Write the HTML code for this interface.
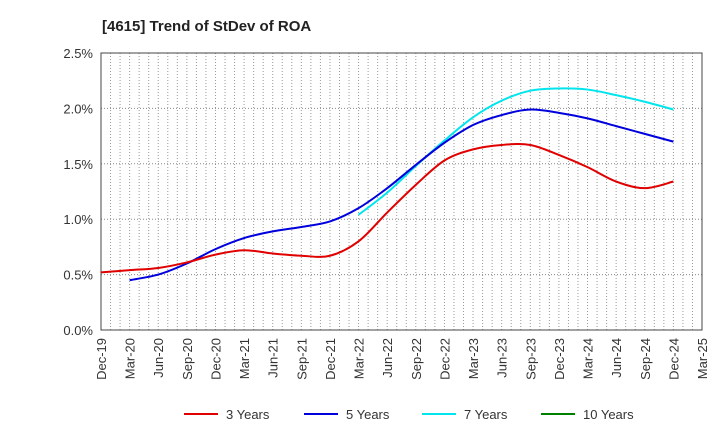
<!DOCTYPE html>
<html><head><meta charset="utf-8"><style>
body{margin:0;background:#fff;font-family:"Liberation Sans",sans-serif}
</style></head><body>
<svg id="chart" width="720" height="440" xmlns="http://www.w3.org/2000/svg" font-family="Liberation Sans, sans-serif">
<text x="102" y="31" font-size="15" font-weight="bold" fill="#222">[4615]  Trend of StDev of ROA</text>
<g id="grid"></g><g id="axes"></g><g id="series"></g><g id="legend"></g>
</svg>
<script>
const xLabels=["Dec-19","Mar-20","Jun-20","Sep-20","Dec-20","Mar-21","Jun-21","Sep-21","Dec-21","Mar-22","Jun-22","Sep-22","Dec-22","Mar-23","Jun-23","Sep-23","Dec-23","Mar-24","Jun-24","Sep-24","Dec-24","Mar-25"];
const yTicks=[0,0.5,1.0,1.5,2.0,2.5];
const s3=[0.52,0.54,0.56,0.61,0.68,0.72,0.69,0.67,0.67,0.80,1.06,1.31,1.53,1.63,1.67,1.67,1.58,1.47,1.34,1.28,1.34];
const s5=[null,0.45,0.50,0.60,0.73,0.83,0.89,0.93,0.98,1.10,1.28,1.49,1.69,1.85,1.94,1.99,1.96,1.91,1.84,1.77,1.70];
const s7=[null,null,null,null,null,null,null,null,null,1.04,1.24,1.48,1.71,1.92,2.07,2.16,2.18,2.17,2.12,2.06,1.99];
const s10=[];
const L=101,R=702,T=53,B=330,yMax=2.5;
const X=i=>L+i*(R-L)/(xLabels.length-1);
const Y=v=>B-v/yMax*(B-T);
const NS="http://www.w3.org/2000/svg";
function mk(tag,attrs,parent){const e=document.createElementNS(NS,tag);for(const k in attrs)e.setAttribute(k,attrs[k]);parent.appendChild(e);return e;}
const grid=document.getElementById('grid'),axes=document.getElementById('axes'),ser=document.getElementById('series'),leg=document.getElementById('legend');
const nMonths=(xLabels.length-1)*3;
for(let m=1;m<nMonths;m++){const x=L+m*(R-L)/nMonths;const g=mk('line',{x1:x,x2:x,y1:T,y2:B,stroke:'#999','stroke-dasharray':'1,2','stroke-width':1},grid);

}
yTicks.forEach(v=>{const y=Y(v);
if(v>0&&v<yMax){const g=mk('line',{x1:L,x2:R,y1:y,y2:y,stroke:'#888','stroke-dasharray':'1,2'},grid);

}
const t=mk('text',{x:L-8,y:y+5,'text-anchor':'end','font-size':13,fill:'#333'},axes);t.textContent=v.toFixed(1)+'%';

});
const fr=mk('rect',{x:L,y:T,width:R-L,height:B-T,fill:'none',stroke:'#444','stroke-width':1},axes);


xLabels.forEach((s,i)=>{const x=X(i);const t=mk('text',{transform:`translate(${x+5},${B+8}) rotate(-90)`,'text-anchor':'end','font-size':13,fill:'#333'},axes);t.textContent=s;

});
function path(arr){const p=[];arr.forEach((v,i)=>{if(v!=null)p.push([X(i),Y(v)]);});if(!p.length)return '';
let d=`M${p[0][0]},${p[0][1]}`;
for(let i=0;i<p.length-1;i++){const p0=p[i-1]||p[i],p1=p[i],p2=p[i+1],p3=p[i+2]||p2;const k=6;
d+=` C${p1[0]+(p2[0]-p0[0])/k},${p1[1]+(p2[1]-p0[1])/k} ${p2[0]-(p3[0]-p1[0])/k},${p2[1]-(p3[1]-p1[1])/k} ${p2[0]},${p2[1]}`;}
return d;}
const series=[["3 Years",s3,"#e00000","line-3-years"],["5 Years",s5,"#0000dd","line-5-years"],["7 Years",s7,"#00e5ee","line-7-years"],["10 Years",s10,"#008000","line-10-years"]];
[2,1,0,3].forEach(j=>{const [n,a,c,nm]=series[j];const d=path(a);if(!d)return;const e=mk('path',{d:d,fill:'none',stroke:c,'stroke-width':2},ser);

});
const lx=[184,304,422,541];
series.forEach(([n,a,c],i)=>{const g=mk('g',{},leg);


mk('line',{x1:lx[i],x2:lx[i]+34,y1:414,y2:414,stroke:c,'stroke-width':2},g);
const t=mk('text',{x:lx[i]+42,y:419,'font-size':13,fill:'#333'},g);t.textContent=n;});
</script>
</body></html>
